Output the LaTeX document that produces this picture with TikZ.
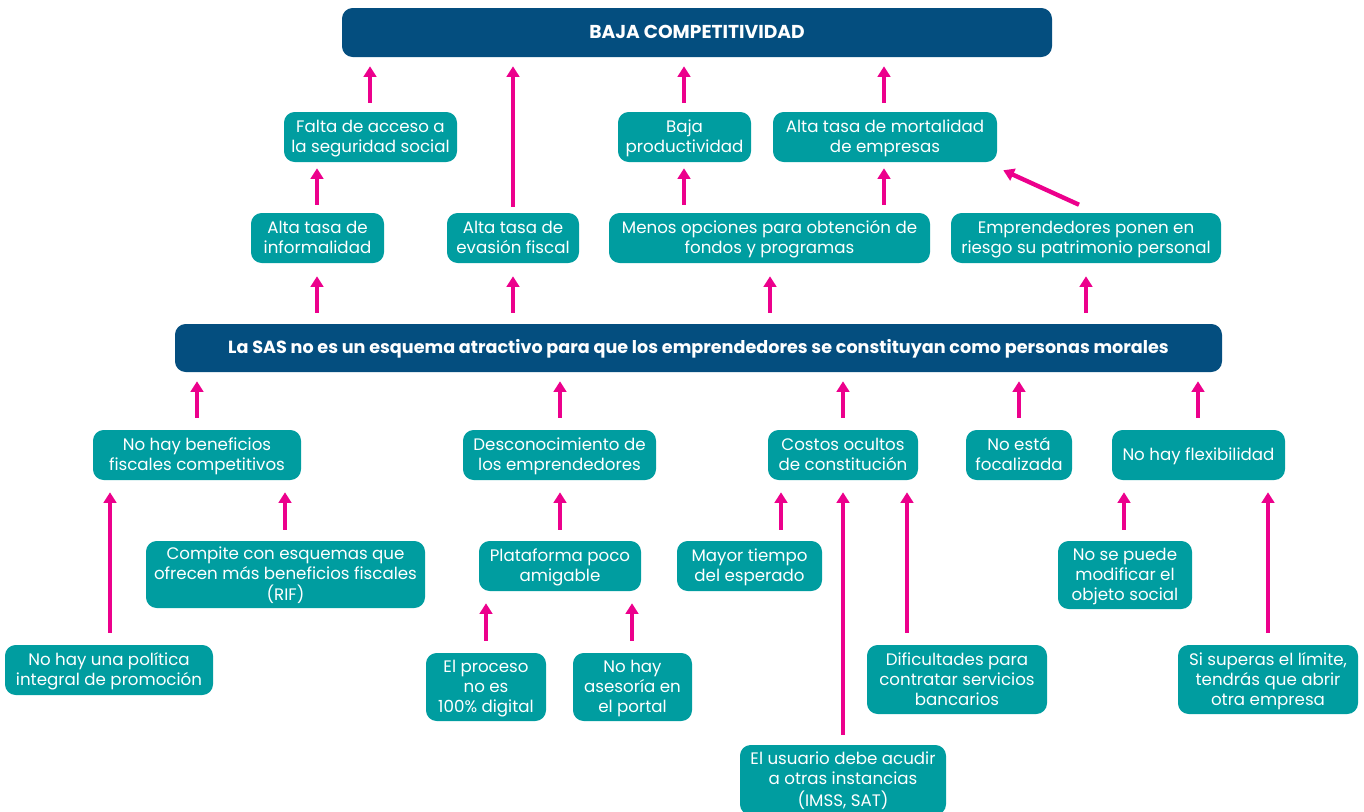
\documentclass[tikz,border=0pt]{standalone}
\usepackage{fontspec}
\setmainfont{Poppins}
\usetikzlibrary{arrows.meta}
\definecolor{navy}{RGB}{4,78,127}
\definecolor{teal}{RGB}{0,157,160}
\definecolor{pink}{RGB}{236,0,140}
\tikzset{
  base/.style={rounded corners=8pt, text=white, inner sep=0pt,
    font=\fontsize{12.5}{15}\selectfont},
  box/.style={base, fill=teal},
  head/.style={base, fill=navy, font=\fontsize{13.2}{15}\selectfont\bfseries},
  arr/.style={draw=pink, line width=3.3pt, -{Triangle[width=9.5pt,length=8pt]}}
}
% \mybox{style}{x1}{y1}{x2}{y2}{name}{text}
\newcommand{\mybox}[7]{\node[#1, minimum width={(#4-#2)*0.75pt}, minimum height={(#5-#3)*0.75pt}] (#6) at ({(#2+#4)/2},{(#3+#5)/2}) {\raisebox{-1.2pt}[\height][\depth]{\begin{tabular}{@{}c@{}}#7\end{tabular}}};}
% \conn{x}{from}{to}{start gap pt}{end gap pt}
\newcommand{\conn}[5]{\draw[arr, shorten <=#4, shorten >=#5] (#2.north -| #1,0) -- (#3.south -| #1,0);}
\begin{document}
\begin{tikzpicture}[x=0.75pt,y=-0.75pt]
\useasboundingbox (0,0) rectangle (1364,811);
% top
\mybox{head, font=\fontsize{14}{15}\selectfont\bfseries}{342}{8}{1052}{57}{baja}{BAJA COMPETITIVIDAD}
% row 2
\mybox{box}{284}{112}{457}{162}{falta}{Falta de acceso a\\la seguridad social}
\mybox{box}{618}{112}{751}{162}{prod}{Baja\\productividad}
\mybox{box}{773}{112}{997}{162}{mortal}{Alta tasa de mortalidad\\de empresas}
% row 3
\mybox{box}{251}{213}{384}{263}{informal}{Alta tasa de\\informalidad}
\mybox{box}{447}{213}{579}{263}{evasion}{Alta tasa de\\evasión fiscal}
\mybox{box}{609}{213}{930}{263}{menos}{Menos opciones para obtención de\\fondos y programas}
\mybox{box}{951}{213}{1221}{263}{emp}{Emprendedores ponen en\\riesgo su patrimonio personal}
% SAS
\mybox{head}{175}{324}{1222}{372}{sas}{La SAS no es un esquema atractivo para que los emprendedores se constituyan como personas morales}
% row 4
\mybox{box}{93}{430}{301}{480}{benef}{No hay beneficios\\fiscales competitivos}
\mybox{box}{463}{430}{656}{480}{descon}{Desconocimiento de\\los emprendedores}
\mybox{box}{768}{430}{918}{480}{costos}{Costos ocultos\\de constitución}
\mybox{box}{966}{430}{1072}{480}{focal}{No está\\focalizada}
\mybox{box}{1112}{430}{1285}{480}{flex}{No hay flexibilidad}
% row 5
\mybox{box}{146}{541}{425}{608}{compite}{Compite con esquemas que\\ofrecen más beneficios fiscales\\(RIF)}
\mybox{box}{479}{541}{641}{591}{plat}{Plataforma poco\\amigable}
\mybox{box}{677}{541}{822}{591}{mayor}{Mayor tiempo\\del esperado}
\mybox{box}{1058}{541}{1192}{609}{nose}{No se puede\\modificar el\\objeto social}
% row 6
\mybox{box}{5}{645}{213}{695}{politica}{No hay una política\\integral de promoción}
\mybox{box}{426}{653}{546}{721}{proceso}{El proceso\\no es\\100\% digital}
\mybox{box}{573}{653}{692}{721}{asesoria}{No hay\\asesoría en\\el portal}
\mybox{box}{867}{645}{1047}{714}{dific}{Dificultades para\\contratar servicios\\bancarios}
\mybox{box}{1178}{645}{1358}{714}{superas}{Si superas el límite,\\tendrás que abrir\\otra empresa}
% row 7
\mybox{box}{740}{745}{946}{815}{usuario}{El usuario debe acudir\\a otras instancias\\(IMSS, SAT)}
% connectors
\conn{370}{falta}{baja}{6.75pt}{6.75pt}
\conn{513}{evasion}{baja}{4.5pt}{6.75pt}
\conn{684}{prod}{baja}{6.75pt}{6.75pt}
\conn{884}{mortal}{baja}{6.75pt}{6.75pt}
\conn{317}{informal}{falta}{6pt}{4.5pt}
\conn{684}{menos}{prod}{6pt}{4.5pt}
\conn{884}{menos}{mortal}{6pt}{4.5pt}
\draw[arr] ([shift={(-7,-8)}]emp.north) -- ([shift={(6,8)}]mortal.south east);
\conn{317}{sas}{informal}{8.25pt}{9.75pt}
\conn{513}{sas}{evasion}{8.25pt}{9.75pt}
\conn{770}{sas}{menos}{8.25pt}{9.75pt}
\conn{1086}{sas}{emp}{8.25pt}{9.75pt}
\conn{197}{benef}{sas}{9pt}{6.75pt}
\conn{560}{descon}{sas}{9pt}{6.75pt}
\conn{843}{costos}{sas}{9pt}{6.75pt}
\conn{1019}{focal}{sas}{9pt}{6.75pt}
\conn{1198}{flex}{sas}{9pt}{6.75pt}
\conn{110}{politica}{benef}{9pt}{9pt}
\conn{285}{compite}{benef}{8.25pt}{9pt}
\conn{560}{plat}{descon}{8.25pt}{9pt}
\conn{781}{mayor}{costos}{8.25pt}{9pt}
\conn{843}{usuario}{costos}{7.5pt}{9pt}
\conn{907}{dific}{costos}{9pt}{9pt}
\conn{1124}{nose}{flex}{8.25pt}{9pt}
\conn{1268}{superas}{flex}{9pt}{9pt}
\conn{486}{proceso}{plat}{9pt}{9pt}
\conn{632}{asesoria}{plat}{9pt}{9pt}
\end{tikzpicture}
\end{document}
